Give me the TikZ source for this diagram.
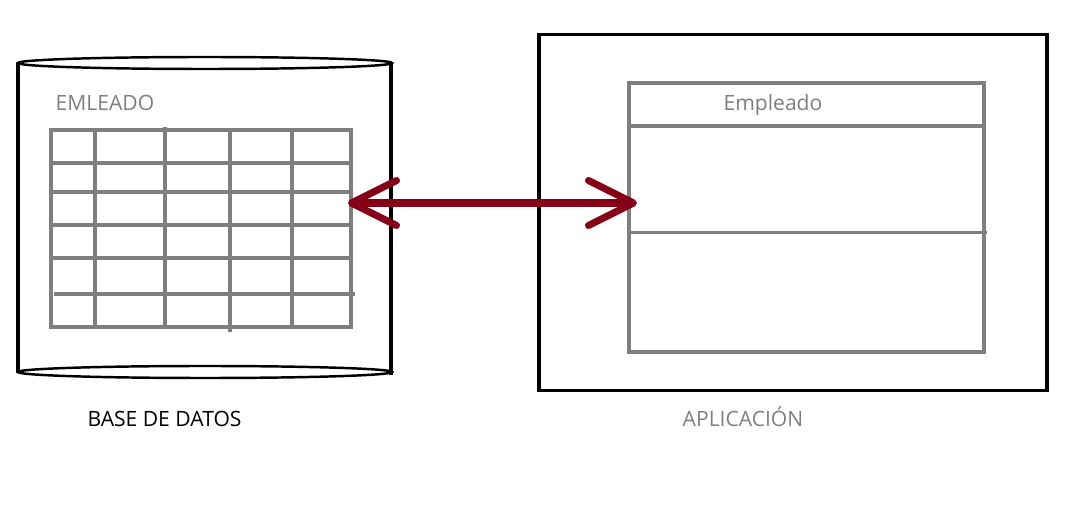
\documentclass[tikz,border=0pt]{standalone}
\usepackage{fontspec}
\setmainfont{Open Sans}
\usetikzlibrary{arrows.meta}
\definecolor{gristabla}{RGB}{127,127,127}
\definecolor{granate}{RGB}{134,0,24}

\begin{document}
\begin{tikzpicture}[x=0.02cm,y=-0.02cm,
    texto/.style={font=\fontsize{12}{14}\selectfont,anchor=base,inner sep=0pt},
    gris/.style={draw=gristabla,line width=1.8pt},
    negro/.style={draw=black,line width=1.8pt},
    flecha/.style={draw=granate,line width=4pt,line cap=round,
      {Straight Barb[length=0.9cm,width=0.9cm,round]}-{Straight Barb[length=0.9cm,width=0.9cm,round]}}]
   \useasboundingbox (0,0) rectangle (1086,523);
   % base de datos
   \draw[negro] (18,63) -- (18,373);
   \draw[negro] (391,63) -- (391,375);
   \draw[line width=1.4pt] (205,63) ellipse [x radius=187,y radius=6];
   \draw[line width=1.4pt] (205,372) ellipse [x radius=187,y radius=6];
   \node[texto,text=gristabla] (emleado) at (105,111) {EMLEADO};
   \node[gris,minimum width=6cm,minimum height=3.94cm] (tabla) at (201,228.5) {};
   \draw[gris] (95,130) -- (95,327);
   \draw[gris] (165,127) -- (165,327);
   \draw[gris] (230,130) -- (230,332);
   \draw[gris] (292,130) -- (292,327);
   \draw[gris] (51,163) -- (351,163);
   \draw[gris] (51,192) -- (351,192);
   \draw[gris] (51,225) -- (353,225);
   \draw[gris] (51,258) -- (351,258);
   \draw[gris] (54,294) -- (355,294);
   \node[texto] (bd) at (164.5,427) {BASE DE DATOS};
   % aplicacion
   \node[negro,minimum width=10.16cm,minimum height=7.12cm] (aplicacion) at (793,212.85) {};
   \node[gris,minimum width=7.1cm,minimum height=5.38cm] (clase) at (806.5,217.5) {};
   \draw[gris] (629,126) -- (984,126);
   \draw[gris] (629,232.5) -- (987,232.5);
   \node[texto,text=gristabla] (empleado) at (773,111) {Empleado};
   \node[texto,text=gristabla] (app) at (743,427) {APLICACIÓN};
   % flecha
   \coordinate (izq) at (348,203);
   \coordinate (der) at (637,203);
   \draw[flecha] (izq) -- (der);
\end{tikzpicture}
\end{document}
